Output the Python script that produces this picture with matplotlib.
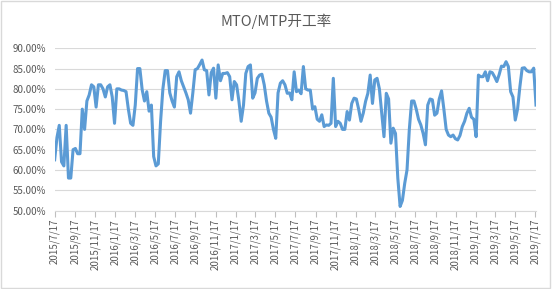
"""MTO/MTP operating rate, weekly line chart (Excel style)."""
import matplotlib
matplotlib.use('Agg')
import matplotlib.pyplot as plt
import matplotlib.patches as patches
import numpy as np
import pandas as pd

TITLE = 'MTO/MTP开工率'
START_DATE = '2015-07-17'

# weekly operating rate, %
RATE = [
    62.5, 68, 71, 62, 61, 71, 58, 58, 65, 65.3,
    64, 64, 75, 70, 77, 78.5, 81, 80.5, 75.5, 81,
    81, 80, 78, 80.5, 81, 78, 71.5, 80, 80, 79.7,
    79.6, 79.3, 75, 71.5, 71, 76, 85, 85, 79.8, 77,
    79.3, 74.5, 76, 63.3, 61, 61.5, 72, 80, 84.5, 84.5,
    79, 77, 75.5, 83, 84.2, 82, 80.5, 79, 77.3, 74,
    79, 84.7, 85, 86, 87.1, 84.7, 84.5, 78.5, 84, 85.1,
    77.7, 85.9, 82, 83.8, 83.8, 84, 83, 77.3, 81.8, 81,
    77, 72, 76, 83.8, 85.5, 85.9, 77.7, 79, 82.6, 83.4,
    83.6, 81, 77, 74, 73, 70, 67.8, 79, 81.4, 82,
    81, 78.9, 79, 77.3, 84.2, 79.3, 79.7, 78.8, 85.5, 80,
    79.7, 79.7, 75, 75.6, 72.5, 72, 73.6, 70.7, 71.1, 71,
    71.5, 82.6, 70.7, 72, 71.5, 70, 70, 74.4, 72.3, 76.4,
    77.7, 77.5, 75, 72, 74, 76.9, 78.9, 83.4, 76.4, 82.2,
    82.6, 80, 74, 68.2, 78.9, 77.5, 66.6, 70.3, 69, 58,
    51, 52.5, 56.7, 60, 70, 77, 77, 75, 72.5, 71.1,
    69, 66.2, 76, 77.5, 77.3, 73.5, 74, 77.5, 79.5, 75,
    70, 68.6, 68.2, 68.6, 67.7, 67.4, 68.5, 70.7, 72, 74,
    75.2, 73, 72.5, 68.2, 83.4, 83, 83, 84.2, 82, 84.2,
    84, 83, 81.8, 83.5, 85.6, 85.5, 86.7, 85.5, 79.3, 78,
    72.3, 75, 80.5, 85.1, 85.2, 84.5, 84.2, 84.2, 85.1, 76,
]

TICK_LABELS = [
    '2015/7/17', '2015/9/17', '2015/11/17', '2016/1/17', '2016/3/17',
    '2016/5/17', '2016/7/17', '2016/9/17', '2016/11/17', '2017/1/17',
    '2017/3/17', '2017/5/17', '2017/7/17', '2017/9/17', '2017/11/17',
    '2018/1/17', '2018/3/17', '2018/5/17', '2018/7/17', '2018/9/17',
    '2018/11/17', '2019/1/17', '2019/3/17', '2019/5/17', '2019/7/17',
]
Y_TICKS = [50, 55, 60, 65, 70, 75, 80, 85, 90]

plt.rcParams['font.family'] = ['Noto Sans CJK SC', 'DejaVu Sans']

dates = pd.date_range(START_DATE, periods=len(RATE), freq='7D')
tick_dates = pd.to_datetime(TICK_LABELS, format='%Y/%m/%d')

fig = plt.figure(figsize=(5.52, 2.89), dpi=100, facecolor='white')
ax = fig.add_axes([0.099, 0.2716, 0.872, 0.5613])

ax.plot(dates, RATE, color='#5B9BD5', linewidth=2.2, solid_joinstyle='round', zorder=3)

ax.set_xlim(dates[0], dates[-1])
ax.set_ylim(50, 90)
ax.set_yticks(Y_TICKS)
ax.set_yticklabels([f'{v:.2f}%' for v in Y_TICKS])
ax.set_xticks(tick_dates)
ax.set_xticklabels(TICK_LABELS, rotation=90)

ax.grid(axis='y', color='#d9d9d9', linewidth=0.8)
ax.set_axisbelow(True)
for side in ['top', 'right', 'left']:
    ax.spines[side].set_visible(False)
ax.spines['bottom'].set_color('#d9d9d9')
ax.spines['bottom'].set_linewidth(0.8)

ax.tick_params(axis='y', length=0, labelsize=7, labelcolor='#595959', pad=6)
ax.tick_params(axis='x', length=4, color='#bfbfbf', width=0.8,
               labelsize=7, labelcolor='#595959', pad=2)

fig.text(0.5, 0.925, TITLE, ha='center', va='center', fontsize=10.5, color='#595959')

# chart area border
fig.patches.append(patches.Rectangle((0.002, 0.003), 0.995, 0.993, transform=fig.transFigure,
                                     fill=False, edgecolor='#d9d9d9', linewidth=1))

fig.savefig('out.png', dpi=100, facecolor='white')
